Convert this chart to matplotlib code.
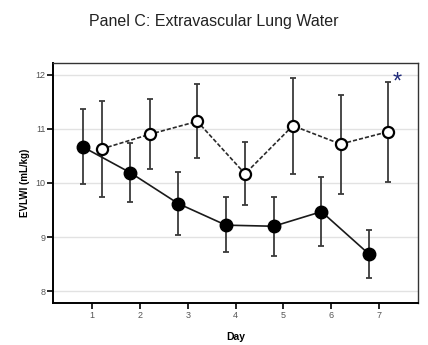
import numpy as np
import matplotlib.pyplot as plt

# EVLWI por día: grupo tratado (relleno) y control (abierto)
dias = np.array([1, 2, 3, 4, 5, 6, 7])
evlwi_lleno = [10.67, 10.19, 9.62, 9.22, 9.20, 9.47, 8.68]
lleno_sup = [11.37, 10.74, 10.21, 9.74, 9.75, 10.11, 9.13]
lleno_inf = [9.99, 9.65, 9.04, 8.72, 8.65, 8.84, 8.24]

evlwi_abierto = [10.63, 10.90, 11.14, 10.17, 11.06, 10.72, 10.95]
abierto_sup = [11.52, 11.56, 11.83, 10.75, 11.95, 11.63, 11.86]
abierto_inf = [9.74, 10.26, 10.46, 9.60, 10.17, 9.79, 10.01]

plt.rcParams['font.family'] = ['Liberation Sans', 'DejaVu Sans']

fig = plt.figure(figsize=(4.28, 3.45), dpi=100)
ax = fig.add_axes([53/428, 1 - 303/345, 365/428, 240/345])

desfase = 0.2
x_ll = dias - desfase
x_ab = dias + desfase

err_ll = [np.array(evlwi_lleno) - np.array(lleno_inf),
          np.array(lleno_sup) - np.array(evlwi_lleno)]
err_ab = [np.array(evlwi_abierto) - np.array(abierto_inf),
          np.array(abierto_sup) - np.array(evlwi_abierto)]

ax.errorbar(x_ll, evlwi_lleno, yerr=err_ll, fmt='none', ecolor='#3a3a3a',
            elinewidth=1.3, capsize=2.2, capthick=1.3, zorder=2)
ax.errorbar(x_ab, evlwi_abierto, yerr=err_ab, fmt='none', ecolor='#3a3a3a',
            elinewidth=1.3, capsize=2.2, capthick=1.3, zorder=2)

ax.plot(x_ll, evlwi_lleno, '-', color='#1a1a1a', lw=1.2, zorder=3)
ax.plot(x_ll, evlwi_lleno, 'o', color='black', ms=9, zorder=4)
ax.plot(x_ab, evlwi_abierto, '--', color='#2a2a2a', lw=1.2,
        dashes=(2.5, 1.2), zorder=3)
ax.plot(x_ab, evlwi_abierto, 'o', mfc='white', mec='black', mew=1.6,
        ms=8, zorder=4)

# significancia el día 7
ax.text(7.38, 11.86, '*', color='#1f2a7a', fontsize=17, ha='center',
        va='center', zorder=5)

ax.set_xlim(0.18, 7.82)
ax.set_ylim(7.78, 12.22)
ax.set_xticks(dias)
ax.set_yticks([8, 9, 10, 11, 12])
ax.yaxis.grid(True, color='#e2e2e2', lw=1.0)
ax.set_axisbelow(True)

for lado in ['left', 'bottom']:
    ax.spines[lado].set_linewidth(1.4)
for lado in ['top', 'right']:
    ax.spines[lado].set_linewidth(1.0)
    ax.spines[lado].set_color('#333333')

ax.tick_params(axis='both', direction='out', length=4, width=1.2,
               labelsize=6.5, labelcolor='#555555', pad=1.5)

ax.set_xlabel('Day', fontsize=7.5, fontweight='bold', labelpad=9)
ax.set_ylabel('EVLWI (mL/kg)', fontsize=7, fontweight='bold', labelpad=4)

fig.suptitle('Panel C: Extravascular Lung Water', fontsize=11.5,
             color='#222222', x=0.5, y=0.96)

fig.savefig('out.png', dpi=100)
